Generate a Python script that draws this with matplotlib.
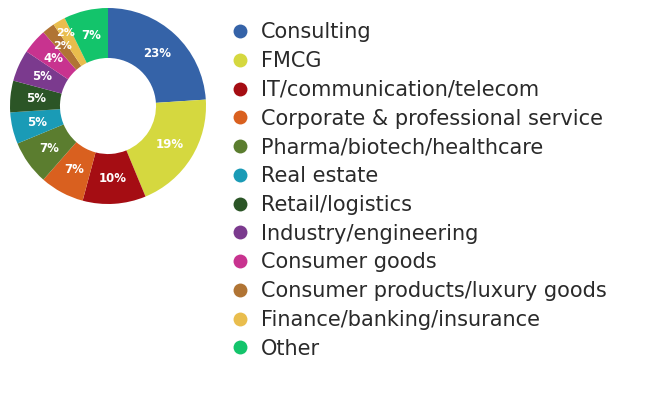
import matplotlib
matplotlib.use('Agg')
import matplotlib.pyplot as plt
from matplotlib.lines import Line2D

plt.rcParams['font.family'] = ['DejaVu Sans']

sectors = ['Consulting', 'FMCG', 'IT/communication/telecom',
           'Corporate & professional service', 'Pharma/biotech/healthcare',
           'Real estate', 'Retail/logistics', 'Industry/engineering',
           'Consumer goods', 'Consumer products/luxury goods',
           'Finance/banking/insurance', 'Other']
shares = [23, 19, 10, 7, 7, 5, 5, 5, 4, 2, 2, 7]
colors = ['#3563a8', '#d5d83f', '#a50d13', '#d9601f', '#5b7d2f', '#1a9bb6',
          '#2b5526', '#7b3a8e', '#c8338f', '#b07434', '#e9bd4d', '#13c46b']

W, H = 659, 396
fig = plt.figure(figsize=(W / 100, H / 100), dpi=100)

# donut, centre ~(108,106) px, radius ~98 px
ax = fig.add_axes([10 / W, 1 - 204 / H, 196 / W, 196 / H])
wedges, _, autotexts = ax.pie(shares, colors=colors, startangle=90, counterclock=False,
                              autopct=lambda p: '', pctdistance=0.74,
                              wedgeprops=dict(width=0.51, linewidth=0))
for i, (t, v) in enumerate(zip(autotexts, shares)):
    t.set_text(f'{v}%')
    t.set_color('white')
    t.set_fontsize(8.5)
    t.set_fontweight('bold')
    # the two thin slices have their labels pushed outward a bit
    if i == 9:
        x, y = t.get_position()
        t.set_position((x * 1.04, y * 1.04))
        t.set_fontsize(8)
    if i == 10:
        x, y = t.get_position()
        t.set_position((x * 1.16, y * 1.16))
        t.set_fontsize(8)
ax.set_aspect('equal')
ax.set_xlim(-1, 1)
ax.set_ylim(-1, 1)

handles = [Line2D([], [], marker='o', linestyle='', markersize=10,
                  markerfacecolor=c, markeredgewidth=0) for c in colors]
fig.legend(handles, sectors, loc='upper left', bbox_to_anchor=(221 / W, 1 - 12 / H),
           frameon=False, fontsize=15, labelspacing=0.42, handlelength=0.8,
           handletextpad=0.6, borderpad=0, labelcolor='#2a2a2a')

fig.savefig('out.png', dpi=100)
